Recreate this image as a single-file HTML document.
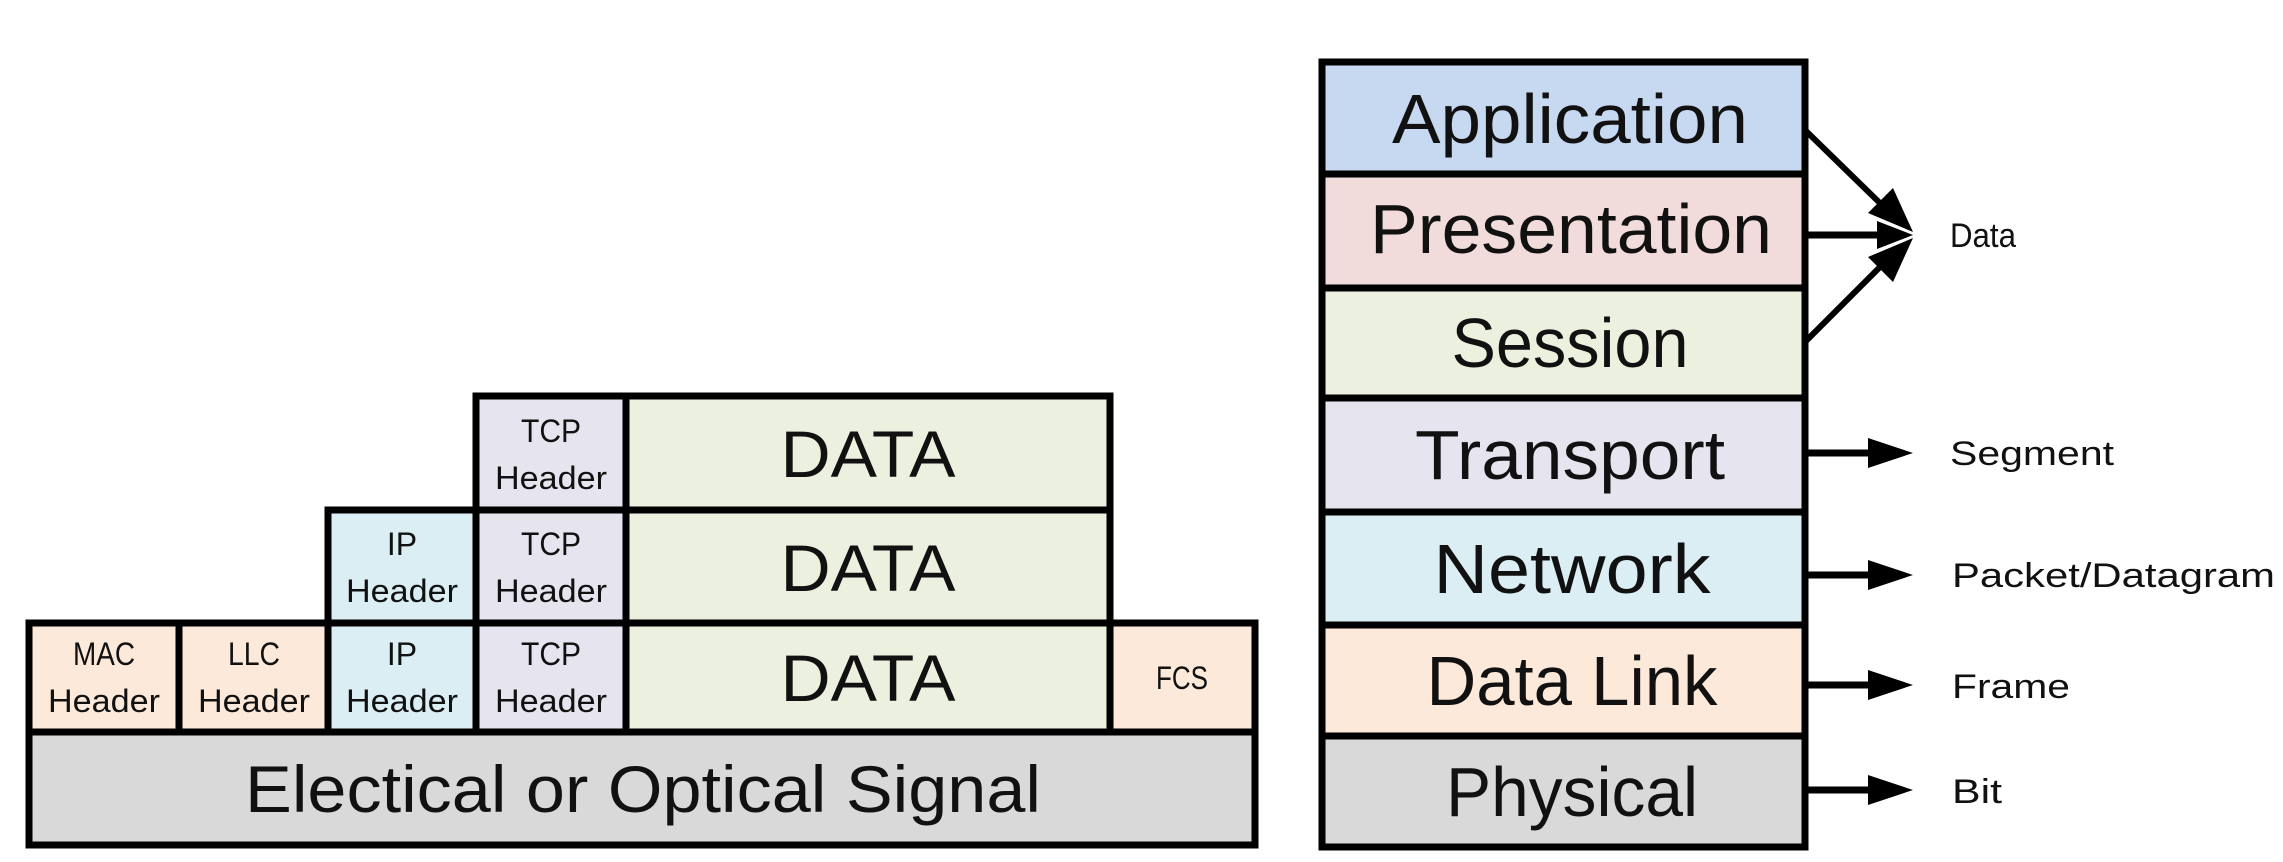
<!DOCTYPE html>
<html><head><meta charset="utf-8"><style>html,body{margin:0;padding:0;background:#fff}svg{display:block}</style></head>
<body>
<svg width="2283" height="862" viewBox="0 0 2283 862" xmlns="http://www.w3.org/2000/svg" font-family="'Liberation Sans', sans-serif" fill="#111">
<g stroke="#000" stroke-width="7">
<rect x="476" y="396" width="150" height="114" fill="#e6e4ee"/>
<rect x="626" y="396" width="484" height="114" fill="#ebf1de"/>
<rect x="328" y="510" width="148" height="113" fill="#dbeef4"/>
<rect x="476" y="510" width="150" height="113" fill="#e6e4ee"/>
<rect x="626" y="510" width="484" height="113" fill="#ebf1de"/>
<rect x="29" y="623" width="150" height="109" fill="#fde9d9"/>
<rect x="179" y="623" width="149" height="109" fill="#fde9d9"/>
<rect x="328" y="623" width="148" height="109" fill="#dbeef4"/>
<rect x="476" y="623" width="150" height="109" fill="#e6e4ee"/>
<rect x="626" y="623" width="484" height="109" fill="#ebf1de"/>
<rect x="1110" y="623" width="145" height="109" fill="#fde9d9"/>
<rect x="29" y="732" width="1226" height="113" fill="#d9d9d9"/>
<rect x="1322" y="62" width="483" height="112" fill="#c6d9f1"/>
<rect x="1322" y="174" width="483" height="114" fill="#f2dcdb"/>
<rect x="1322" y="288" width="483" height="110" fill="#ebf1de"/>
<rect x="1322" y="398" width="483" height="114" fill="#e6e4ee"/>
<rect x="1322" y="512" width="483" height="113" fill="#dbeef4"/>
<rect x="1322" y="625" width="483" height="111" fill="#fde9d9"/>
<rect x="1322" y="736" width="483" height="111" fill="#d9d9d9"/>
<line x1="1805" y1="130" x2="1885" y2="208" stroke-width="6"/>
<line x1="1805" y1="235" x2="1880" y2="235" stroke-width="7"/>
<line x1="1805" y1="342" x2="1885" y2="262" stroke-width="6"/>
<line x1="1805" y1="453" x2="1872" y2="453"/>
<line x1="1805" y1="575" x2="1872" y2="575"/>
<line x1="1805" y1="685" x2="1872" y2="685"/>
<line x1="1805" y1="790" x2="1872" y2="790"/>
</g>
<g fill="#000">
<polygon points="1913,232 1868,213 1893,188"/>
<polygon points="1913,235 1877,221 1877,249"/>
<polygon points="1913,238 1868,257 1893,282"/>
<polygon points="1913,453 1868,438 1868,468"/>
<polygon points="1913,575 1868,560 1868,590"/>
<polygon points="1913,685 1868,670 1868,700"/>
<polygon points="1913,790 1868,775 1868,805"/>
</g>
<g font-size="70" text-anchor="middle">
<text x="1570" y="143" textLength="356" lengthAdjust="spacingAndGlyphs">Application</text>
<text x="1571" y="253" textLength="402" lengthAdjust="spacingAndGlyphs">Presentation</text>
<text x="1570" y="367" textLength="237" lengthAdjust="spacingAndGlyphs">Session</text>
<text x="1570" y="479" textLength="310" lengthAdjust="spacingAndGlyphs">Transport</text>
<text x="1572" y="593" textLength="277" lengthAdjust="spacingAndGlyphs">Network</text>
<text x="1572" y="705" textLength="291" lengthAdjust="spacingAndGlyphs">Data Link</text>
<text x="1572" y="816" textLength="252" lengthAdjust="spacingAndGlyphs">Physical</text>
</g>
<g font-size="34">
<text x="1950" y="247" textLength="66" lengthAdjust="spacingAndGlyphs">Data</text>
<text x="1950" y="465" textLength="164" lengthAdjust="spacingAndGlyphs">Segment</text>
<text x="1952" y="587" textLength="323" lengthAdjust="spacingAndGlyphs">Packet/Datagram</text>
<text x="1952" y="698" textLength="118" lengthAdjust="spacingAndGlyphs">Frame</text>
<text x="1952" y="803" textLength="50" lengthAdjust="spacingAndGlyphs">Bit</text>
</g>
<g font-size="66" text-anchor="middle">
<text x="868" y="477" textLength="175" lengthAdjust="spacingAndGlyphs">DATA</text>
<text x="868" y="591" textLength="175" lengthAdjust="spacingAndGlyphs">DATA</text>
<text x="868" y="701" textLength="175" lengthAdjust="spacingAndGlyphs">DATA</text>
<text x="643" y="812" textLength="796" lengthAdjust="spacingAndGlyphs">Electical or Optical Signal</text>
</g>
<g font-size="32" text-anchor="middle">
<text x="551" y="442" textLength="60" lengthAdjust="spacingAndGlyphs">TCP</text>
<text x="551" y="489" textLength="112" lengthAdjust="spacingAndGlyphs">Header</text>
<text x="402" y="555">IP</text>
<text x="402" y="602" textLength="112" lengthAdjust="spacingAndGlyphs">Header</text>
<text x="551" y="555" textLength="60" lengthAdjust="spacingAndGlyphs">TCP</text>
<text x="551" y="602" textLength="112" lengthAdjust="spacingAndGlyphs">Header</text>
<text x="104" y="665" textLength="62" lengthAdjust="spacingAndGlyphs">MAC</text>
<text x="104" y="712" textLength="112" lengthAdjust="spacingAndGlyphs">Header</text>
<text x="254" y="665" textLength="52" lengthAdjust="spacingAndGlyphs">LLC</text>
<text x="254" y="712" textLength="112" lengthAdjust="spacingAndGlyphs">Header</text>
<text x="402" y="665">IP</text>
<text x="402" y="712" textLength="112" lengthAdjust="spacingAndGlyphs">Header</text>
<text x="551" y="665" textLength="60" lengthAdjust="spacingAndGlyphs">TCP</text>
<text x="551" y="712" textLength="112" lengthAdjust="spacingAndGlyphs">Header</text>
<text x="1182" y="689" textLength="52" lengthAdjust="spacingAndGlyphs">FCS</text>
</g>
</svg>
</body></html>
